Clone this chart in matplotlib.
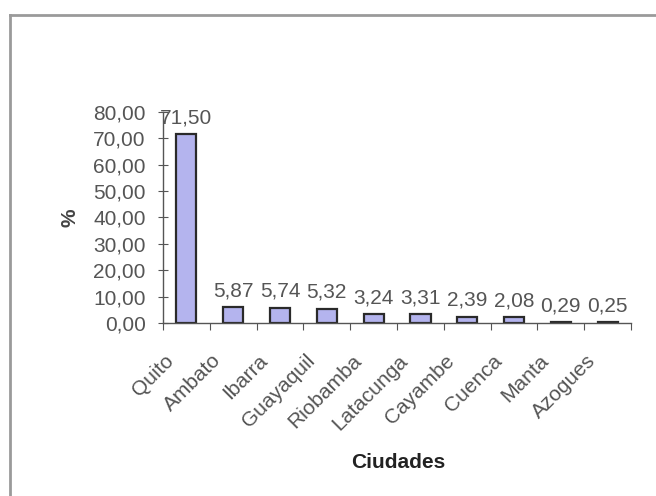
import matplotlib
matplotlib.use("Agg")
import matplotlib.pyplot as plt
from matplotlib.lines import Line2D

plt.rcParams['font.family'] = ['Liberation Sans', 'DejaVu Sans']

ciudades = ["Quito", "Ambato", "Ibarra", "Guayaquil", "Riobamba",
            "Latacunga", "Cayambe", "Cuenca", "Manta", "Azogues"]
porcentajes = [71.50, 5.87, 5.74, 5.32, 3.24, 3.31, 2.39, 2.08, 0.29, 0.25]
y_ticks = [0, 10, 20, 30, 40, 50, 60, 70, 80]

text_gray = "#555555"
bar_fill = "#b4b4ee"
bar_edge = "#2a2a2a"
fs = 15

fig = plt.figure(figsize=(6.56, 4.96), dpi=100)
ax = fig.add_axes([0.2485, 0.349, 0.7135, 0.425])

x = list(range(len(ciudades)))
ax.bar(x, porcentajes, width=0.43, color=bar_fill, edgecolor=bar_edge, linewidth=1.6)

for xi, v in zip(x, porcentajes):
    ax.annotate(f"{v:.2f}".replace(".", ","), (xi, v), xytext=(0, 5),
                textcoords="offset points", ha="center", va="bottom",
                fontsize=fs, color=text_gray)

ax.set_xlim(-0.5, len(ciudades) - 0.5)
ax.set_ylim(0, 80)
ax.set_yticks(y_ticks)
ax.set_yticklabels([f"{t:.2f}".replace(".", ",") for t in y_ticks],
                   fontsize=fs, color=text_gray)
ax.tick_params(axis="y", direction="inout", length=7, color="#555555", pad=9)

# category boundary ticks along the x axis; names are drawn diagonally below
ax.set_xticks([i - 0.5 for i in range(len(ciudades) + 1)])
ax.set_xticklabels([])
ax.tick_params(axis="x", direction="out", length=5, color="#555555")

for xi, name in zip(x, ciudades):
    ax.annotate(name, (xi, 0), xycoords=("data", "axes fraction"),
                xytext=(-11, -25), textcoords="offset points",
                rotation=45, rotation_mode="anchor", ha="right", va="center",
                fontsize=fs, color=text_gray, annotation_clip=False)

for side in ["top", "right"]:
    ax.spines[side].set_visible(False)
for side in ["left", "bottom"]:
    ax.spines[side].set_color("#555555")
    ax.spines[side].set_linewidth(1.0)

fig.text(398 / 656, 1 - 462 / 496, "Ciudades", fontsize=fs, fontweight="bold",
         color="#222222", ha="center", va="center")
ax.set_ylabel("%", fontsize=fs, fontweight="bold", color="#444444", labelpad=10)

# outer chart frame (left and top edges)
frame_color = "#9a9a9a"
fig.add_artist(Line2D([10 / 656, 10 / 656], [0, 1 - 15 / 496],
                      transform=fig.transFigure, color=frame_color, linewidth=2))
fig.add_artist(Line2D([10 / 656, 1], [1 - 15 / 496, 1 - 15 / 496],
                      transform=fig.transFigure, color=frame_color, linewidth=2))

fig.savefig("out.png", dpi=100)
